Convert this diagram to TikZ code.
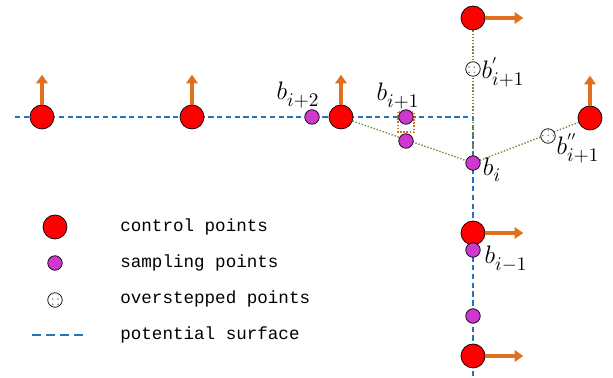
\documentclass[tikz,border=0pt]{standalone}
\usepackage{fontspec}
\newfontfamily\legendfont{Liberation Mono}
\usetikzlibrary{patterns,backgrounds,arrows.meta}
\definecolor{ctrlred}{RGB}{255,0,0}
\definecolor{samplemag}{RGB}{206,56,206}
\definecolor{arrorange}{RGB}{224,112,32}
\definecolor{surfblue}{RGB}{40,116,184}
\definecolor{pathgreen}{RGB}{116,140,64}
\tikzset{
  ctrl/.style={circle,draw=black,fill=ctrlred,minimum size=0.48cm,inner sep=0pt},
  sample/.style={circle,draw=black,fill=samplemag,minimum size=0.29cm,inner sep=0pt},
  over/.style={circle,draw=black,fill=white,minimum size=0.29cm,inner sep=0pt,
    postaction={pattern=dots,pattern color=gray}},
  move/.style={arrorange,line width=1.8pt,-{Triangle[length=5pt,width=6.5pt]}},
  surf/.style={surfblue,dashed,thick,dash pattern=on 3pt off 2pt},
  trail/.style={pathgreen,densely dotted,thick},
  lbl/.style={font=\fontsize{15}{17}\selectfont,inner sep=0pt},
  legtext/.style={font=\legendfont\fontsize{10}{12}\selectfont,anchor=west,inner sep=0pt}
}
\newcommand\bsub[2]{$b^{\scriptscriptstyle #1}_{\scriptstyle #2}$}
\begin{document}
\begin{tikzpicture}[x=0.02cm,y=-0.02cm]
\useasboundingbox (0,0) rectangle (613,378);

% control points
\node[ctrl] (c1) at (42,117) {};
\node[ctrl] (c2) at (192,117) {};
\node[ctrl] (c3) at (341,117) {};
\node[ctrl] (ctop) at (473,18) {};
\node[ctrl] (cright) at (590,118) {};
\node[ctrl] (cmid) at (473,233) {};
\node[ctrl] (cbot) at (473,356) {};

% sampling and overstepped points
\node[sample] (bip2) at (312,117) {};
\node[sample] (bip1) at (406,117) {};
\node[sample] (bip1b) at (406,141) {};
\node[sample] (bi) at (473,163) {};
\node[sample] (bim1) at (473,250) {};
\node[sample] (bim2) at (473,316) {};
\node[over] (oup) at (473,69) {};
\node[over] (oright) at (548,136) {};

% surface and trails
\coordinate (sstart) at (15,117);
\coordinate (scorner) at (473,117);
\coordinate (send) at (473,378);
\begin{pgfonlayer}{background}
\draw[surf] (sstart) -- (scorner) -- (send);
\draw[trail] (c3) -- (bi);
\draw[trail] (ctop) -- (bi);
\draw[trail] (bi) -- (cright);
\draw[arrorange,densely dotted,thick] (398,112) rectangle (414,132);
\end{pgfonlayer}

% motion arrows
\draw[move] (c1.north) -- ++(0,-30);
\draw[move] (c2.north) -- ++(0,-30);
\draw[move] (c3.north) -- ++(0,-30);
\draw[move] (cright.north) -- ++(0,-30);
\draw[move] (ctop.east) -- ++(38,0);
\draw[move] (cmid.east) -- ++(38,0);
\draw[move] (cbot.east) -- ++(38,0);

% labels
\node[lbl] (lip2) at (298,95) {\bsub{}{i+2}};
\node[lbl] (lip1) at (398,96) {\bsub{}{i+1}};
\node[lbl] (lup) at (503,72) {\bsub{'}{i+1}};
\node[lbl] (lright) at (578,148) {\bsub{''}{i+1}};
\node[lbl] (li) at (492,170) {\bsub{}{i}};
\node[lbl] (lim1) at (506,259) {\bsub{}{i-1}};

% legend
\node[ctrl] (kctrl) at (55,227) {};
\node[sample] (ksample) at (55,263) {};
\node[over] (kover) at (55,300) {};
\coordinate (ksurfa) at (32,335);
\coordinate (ksurfb) at (85,335);
\draw[surfblue,line width=1.2pt,dash pattern=on 5pt off 3pt] (ksurfa) -- (ksurfb);
\node[legtext] (tctrl) at (120,227) {control points};
\node[legtext] (tsample) at (120,263) {sampling points};
\node[legtext] (tover) at (120,299) {overstepped points};
\node[legtext] (tsurf) at (120,335) {potential surface};
\end{tikzpicture}
\end{document}
